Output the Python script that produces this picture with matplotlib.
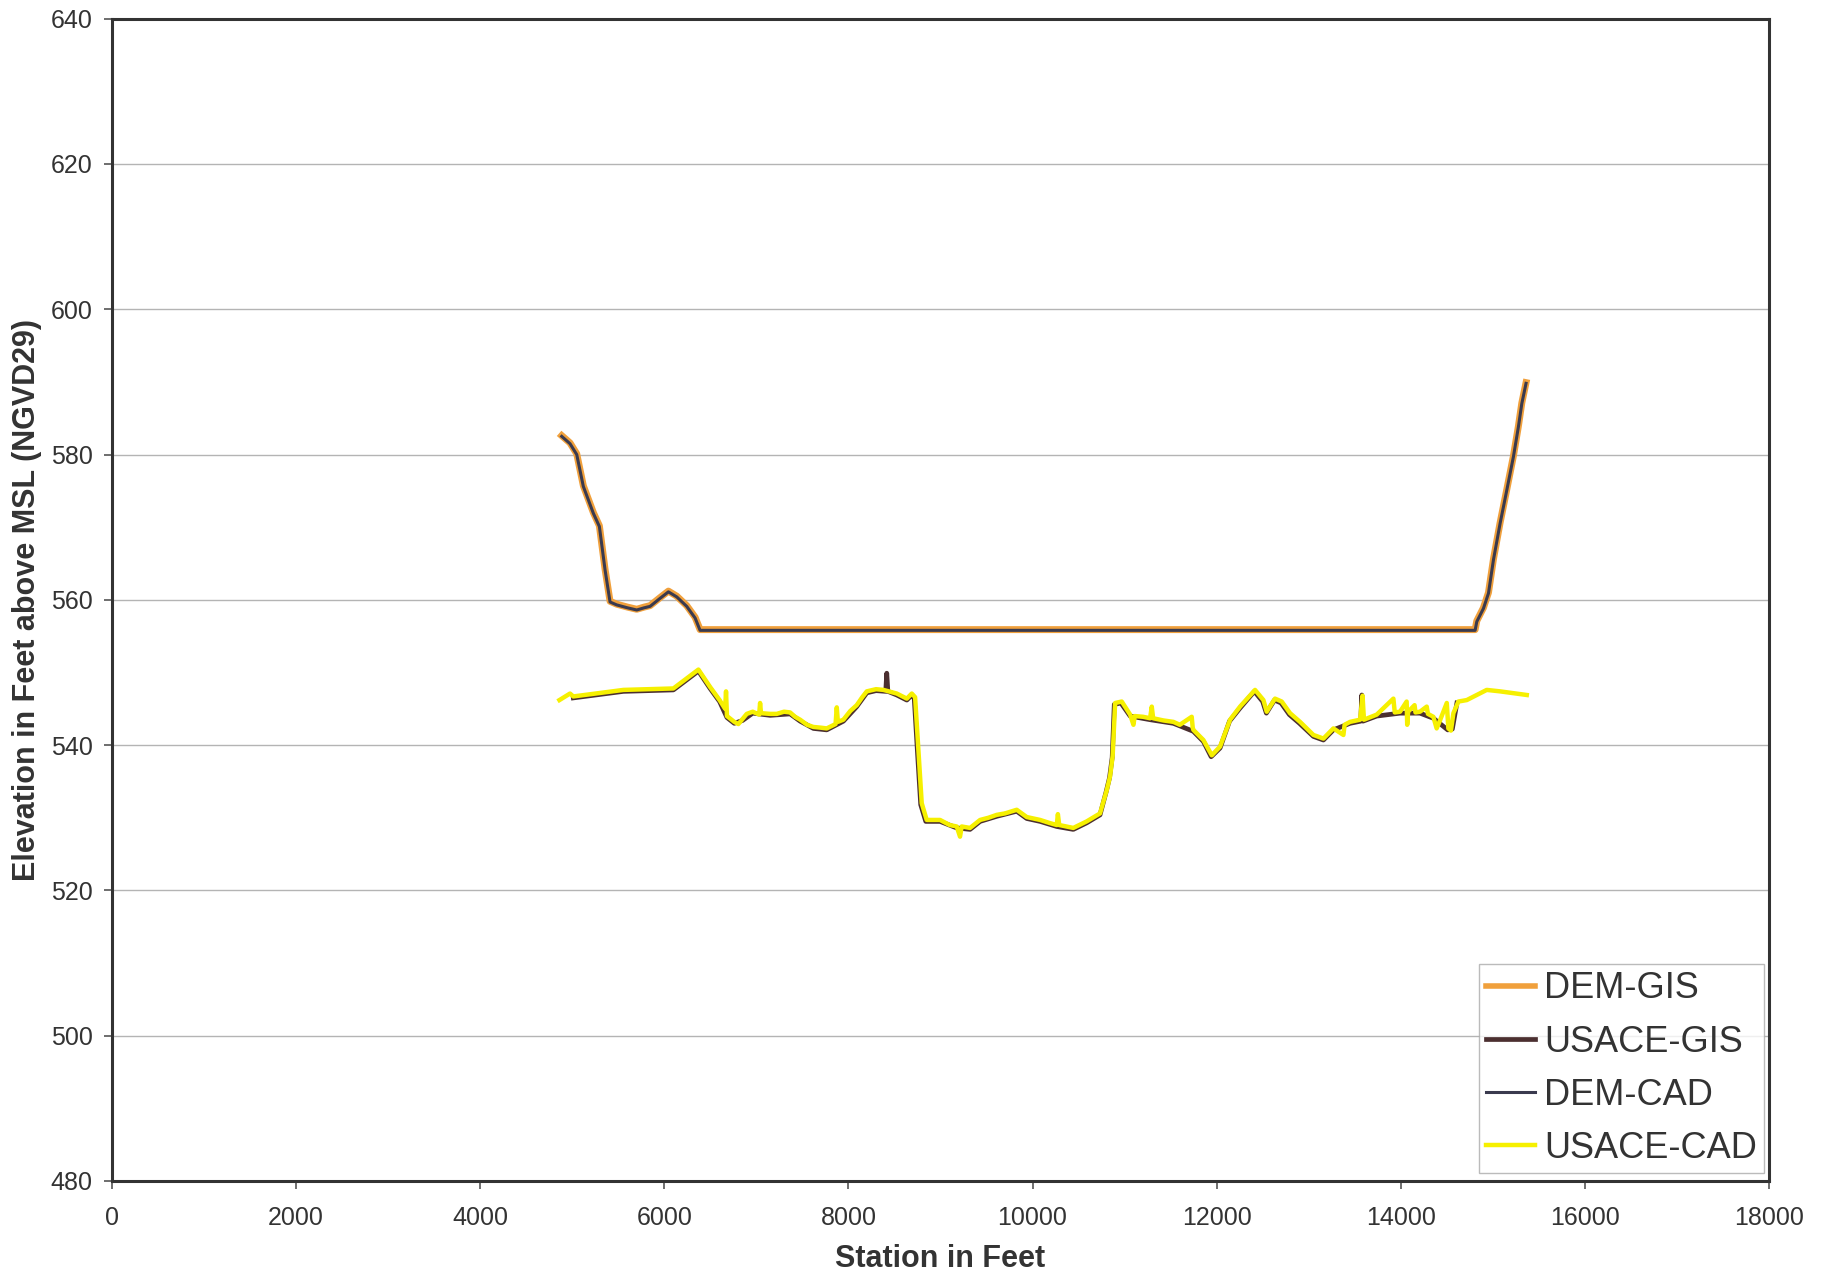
import matplotlib.pyplot as plt

plt.rcParams['font.family'] = ['Liberation Sans', 'DejaVu Sans']

# upper profile: DEM (water surface flat at ~556)
dem_station = [4885, 4975, 5048, 5120, 5229, 5294, 5356, 5410, 5483, 5600,
               5700, 5780, 5845, 5953, 6044, 6135, 6243, 6334, 6388, 14808,
               14826, 14898, 14953, 15007, 15079, 15152, 15224, 15278, 15315, 15361]
dem_gis = [582.6, 581.6, 580.1, 575.7, 572.0, 570.2, 564.2, 559.8, 559.4, 559.0,
           558.7, 559.0, 559.2, 560.3, 561.2, 560.5, 559.2, 557.6, 555.9, 555.9,
           557.1, 558.9, 561.0, 565.6, 570.6, 575.2, 579.8, 583.9, 587.1, 589.9]
dem_cad = [582.5, 581.5, 580.0, 575.6, 571.9, 570.1, 564.1, 559.7, 559.3, 558.9,
           558.6, 558.9, 559.1, 560.2, 561.1, 560.4, 559.1, 557.5, 555.8, 555.8,
           557.0, 558.8, 560.9, 565.5, 570.5, 575.1, 579.7, 583.8, 587.0, 589.8]

# lower profile: USACE bathymetry
usace_gis_station = [5011, 5555, 6098, 6370, 6497, 6600, 6680, 6760, 6850, 6960,
                     7150, 7366, 7475, 7619, 7764, 7945, 8090, 8199, 8300, 8405,
                     8416, 8428, 8525, 8634, 8688, 8715, 8750, 8785, 8840, 8995,
                     9176, 9321, 9430, 9611, 9828, 9937, 10082, 10263, 10443, 10588,
                     10733, 10800, 10836, 10865, 10888, 10960, 11060, 11277, 11530, 11747,
                     11856, 11940, 12037, 12140, 12254, 12410, 12500, 12540, 12628, 12700,
                     12790, 12900, 13051, 13160, 13268, 13449, 13565, 13577, 13590, 13739,
                     13992, 14209, 14354, 14510, 14560, 14610]
usace_gis = [546.5, 547.4, 547.6, 550.2, 547.8, 546.0, 543.8, 543.0, 543.4, 544.4,
             544.1, 544.3, 543.3, 542.3, 542.1, 543.3, 545.3, 547.2, 547.5, 547.4,
             549.9, 547.4, 546.9, 546.2, 546.9, 546.4, 539.0, 531.8, 529.5, 529.5,
             528.6, 528.4, 529.5, 530.2, 530.9, 529.9, 529.5, 528.8, 528.4, 529.3,
             530.4, 533.6, 535.5, 538.3, 545.6, 545.8, 544.0, 543.5, 543.0, 541.9,
             540.5, 538.4, 539.6, 543.3, 545.1, 547.4, 546.0, 544.4, 546.2, 545.8,
             544.2, 543.0, 541.2, 540.7, 542.1, 543.0, 543.3, 546.9, 543.3, 544.0,
             544.4, 544.4, 543.7, 542.1, 542.2, 545.8]

usace_cad_station = [4860, 4975, 5011, 5555, 6098, 6370, 6497, 6600, 6660, 6670,
                     6680, 6760, 6804, 6850, 6895, 6960, 7030, 7040, 7050, 7150,
                     7221, 7300, 7366, 7420, 7475, 7550, 7619, 7700, 7764, 7860,
                     7873, 7885, 7945, 8020, 8090, 8150, 8199, 8300, 8380, 8525,
                     8634, 8688, 8724, 8760, 8796, 8850, 8995, 9100, 9176, 9212,
                     9230, 9321, 9430, 9520, 9611, 9700, 9828, 9937, 10082, 10180,
                     10263, 10275, 10290, 10443, 10588, 10733, 10806, 10842, 10870, 10897,
                     10969, 11060, 11096, 11110, 11200, 11277, 11295, 11310, 11420, 11530,
                     11600, 11729, 11740, 11747, 11856, 11947, 12037, 12146, 12254, 12417,
                     12508, 12544, 12634, 12707, 12797, 12906, 13051, 13160, 13268, 13377,
                     13390, 13449, 13558, 13585, 13600, 13739, 13920, 13935, 13992, 14064,
                     14070, 14080, 14150, 14160, 14209, 14282, 14295, 14354, 14390, 14420,
                     14500, 14517, 14545, 14572, 14626, 14717, 14934, 15079, 15369]
usace_cad = [546.2, 547.1, 546.7, 547.6, 547.8, 550.4, 548.0, 546.2, 545.0, 547.4,
             544.0, 543.2, 542.9, 543.6, 544.3, 544.6, 544.2, 545.8, 544.4, 544.3,
             544.3, 544.6, 544.5, 543.9, 543.5, 542.8, 542.5, 542.4, 542.3, 542.9,
             545.2, 543.2, 543.5, 544.7, 545.5, 546.6, 547.4, 547.7, 547.6, 547.1,
             546.4, 547.1, 546.6, 539.3, 532.0, 529.7, 529.7, 529.0, 528.8, 527.4,
             528.8, 528.6, 529.7, 530.0, 530.4, 530.6, 531.1, 530.1, 529.7, 529.3,
             529.0, 530.5, 529.0, 528.6, 529.5, 530.6, 533.8, 535.7, 538.5, 545.8,
             546.0, 544.2, 542.8, 544.0, 543.9, 543.7, 545.3, 543.7, 543.4, 543.2,
             542.8, 543.9, 542.4, 542.1, 540.7, 538.6, 539.8, 543.5, 545.3, 547.6,
             546.2, 544.6, 546.4, 546.0, 544.4, 543.2, 541.4, 540.9, 542.3, 541.4,
             542.8, 543.2, 543.5, 546.8, 543.5, 544.2, 546.4, 544.5, 544.6, 546.0,
             542.8, 544.6, 545.5, 544.5, 544.6, 545.3, 544.3, 543.9, 542.3, 543.2,
             545.8, 542.3, 542.0, 544.4, 546.0, 546.2, 547.6, 547.4, 546.9]

x_ticks = list(range(0, 18001, 2000))
y_ticks = list(range(480, 641, 20))

text_color = '#333333'

fig = plt.figure(figsize=(18.28, 12.78), dpi=100)
ax = fig.add_axes([0.0613, 0.0759, 0.9064, 0.9095])

ax.plot(dem_station, dem_gis, color='#f0a03c', lw=5.0, label='DEM-GIS', zorder=3)
ax.plot(usace_gis_station, usace_gis, color='#4b2f30', lw=3.4, label='USACE-GIS', zorder=4)
ax.plot(dem_station, dem_cad, color='#3a3a4e', lw=2.2, label='DEM-CAD', zorder=5)
ax.plot(usace_cad_station, usace_cad, color='#f6f000', lw=3.2, label='USACE-CAD', zorder=6)

ax.set_xlim(0, 18000)
ax.set_ylim(480, 640)
ax.set_xticks(x_ticks)
ax.set_yticks(y_ticks)
ax.yaxis.grid(True, color='#b4b4b4', lw=1.0)
ax.set_axisbelow(True)

for s in ax.spines.values():
    s.set_color('#333333')
    s.set_linewidth(2.2)

ax.tick_params(axis='both', direction='out', length=6, width=1.2, color='#555555',
               labelsize=18, labelcolor=text_color, pad=8)
ax.tick_params(axis='x', pad=12)

ax.set_xlabel('Station in Feet', fontsize=22, fontweight='bold', color=text_color, labelpad=10)
ax.set_ylabel('Elevation in Feet above MSL (NGVD29)', fontsize=22, fontweight='bold',
              color=text_color, labelpad=6)

leg = ax.legend(loc='lower right', bbox_to_anchor=(0.997, 0.007), borderaxespad=0,
                fontsize=26, frameon=True, fancybox=False, handlelength=1.35,
                handletextpad=0.25, labelspacing=0.5, borderpad=0.2)
leg.get_frame().set_edgecolor('#aaaaaa')
leg.get_frame().set_linewidth(1.0)
for line in leg.get_lines():
    line.set_linewidth(min(line.get_linewidth(), 4.0))
for t in leg.get_texts():
    t.set_color(text_color)

fig.savefig('out.png', dpi=100)
